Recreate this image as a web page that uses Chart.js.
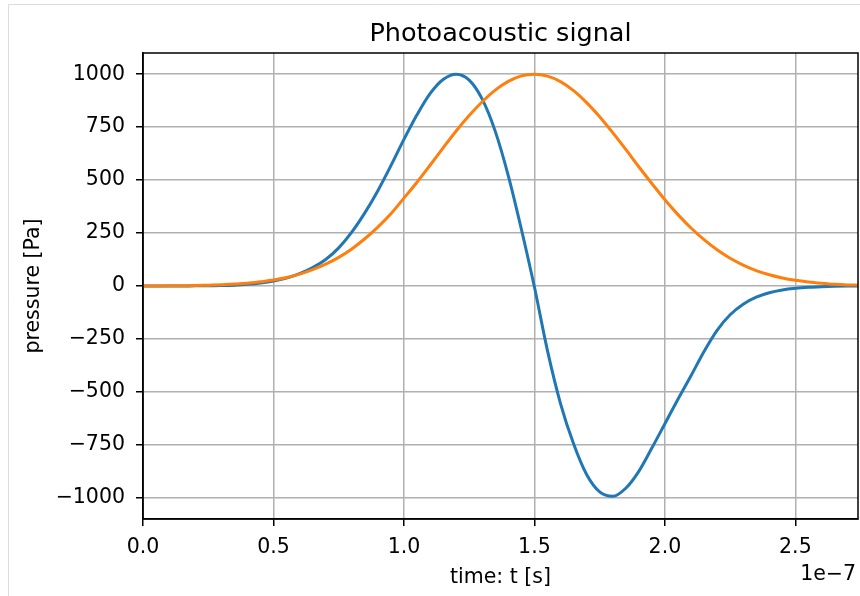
<!DOCTYPE html>
<html>
<head>
<meta charset="utf-8">
<script src="https://cdn.jsdelivr.net/npm/chart.js@4.4.1/dist/chart.umd.min.js"></script>
<style>
  html, body { margin: 0; padding: 0; background: #fff; }
  canvas { display: block; }
</style>
</head>
<body>
<canvas id="grafico" width="860" height="596"></canvas>
<script>
// time axis, in units of 1e-7 s
const tempos = [0.00, 0.05, 0.10, 0.15, 0.20, 0.25, 0.30, 0.35, 0.40, 0.45,
                0.50, 0.55, 0.60, 0.65, 0.70, 0.75, 0.80, 0.85, 0.90, 0.95,
                1.00, 1.05, 1.10, 1.15, 1.20, 1.25, 1.30, 1.35, 1.40, 1.45,
                1.50, 1.55, 1.60, 1.65, 1.70, 1.75, 1.80, 1.85, 1.90, 1.95,
                2.00, 2.05, 2.10, 2.15, 2.20, 2.25, 2.30, 2.35, 2.40, 2.45,
                2.50, 2.55, 2.60, 2.65, 2.70, 2.74];

// blue curve (pressure, Pa)
const sinalAzul = [0, 0, 0, 0, 1, 1, 2, 4, 8, 14,
                   23, 37, 58, 87, 125, 180, 254, 345, 450, 568,
                   692, 808, 908, 975, 1000, 972, 882, 730, 520, 268,
                   -5, -305, -555, -745, -890, -972, -993, -955, -875, -765,
                   -650, -535, -424, -309, -209, -136, -86, -53, -32, -19,
                   -11, -6, -3, -1, 0, 0];

// orange curve (pressure, Pa)
const sinalLaranja = [0, 0, 1, 1, 2, 4, 6, 9, 13, 20,
                      28, 40, 56, 77, 103, 135, 175, 223, 278, 341,
                      415, 490, 570, 652, 732, 805, 870, 925, 966, 992,
                      1000, 991, 965, 922, 866, 799, 724, 645, 563, 484,
                      407, 337, 274, 219, 171, 131, 99, 73, 53, 38,
                      27, 19, 13, 8, 5, 4];

const ticksX = [0, 0.5, 1.0, 1.5, 2.0, 2.5];
const ticksY = [-1000, -750, -500, -250, 0, 250, 500, 750, 1000];

const titulo = "Photoacoustic signal";
const fonte = "'DejaVu Sans', sans-serif";

// frame, title, top/right spines and the 1e-7 offset text
const moldura = {
    id: "moldura",
    beforeDraw(chart) {
        const ctx = chart.ctx;
        ctx.save();
        ctx.fillStyle = "#fff";
        ctx.fillRect(0, 0, chart.width, chart.height);
        ctx.strokeStyle = "#dcdcdc";
        ctx.lineWidth = 1;
        ctx.beginPath();
        ctx.moveTo(8.5, chart.height);
        ctx.lineTo(8.5, 4.5);
        ctx.lineTo(chart.width, 4.5);
        ctx.stroke();
        ctx.restore();
    },
    afterDraw(chart) {
        const ctx = chart.ctx;
        const a = chart.chartArea;
        ctx.save();
        ctx.strokeStyle = "#000";
        ctx.lineWidth = 1.5;
        ctx.strokeRect(a.left, a.top, a.right - a.left, a.bottom - a.top);
        ctx.fillStyle = "#000";
        ctx.textBaseline = "alphabetic";
        ctx.font = "25.5px " + fonte;
        ctx.textAlign = "center";
        ctx.fillText(titulo, (a.left + a.right) / 2, 41);
        ctx.font = "20.5px " + fonte;
        ctx.textAlign = "right";
        ctx.fillText("1e\u22127", 856, 580);
        ctx.restore();
    }
};

function soTicks(lista) {
    return scale => {
        scale.ticks = lista.map(v => ({ value: v }));
    };
}

const ctxGrafico = document.getElementById("grafico");
new Chart(ctxGrafico, {
    type: "line",
    data: {
        datasets: [{
            label: "blue",
            data: tempos.map((t, i) => ({ x: t, y: sinalAzul[i] })),
            borderColor: "#1f77b4",
            borderWidth: 3,
            pointRadius: 0,
            cubicInterpolationMode: "monotone",
            order: 1
        }, {
            label: "orange",
            data: tempos.map((t, i) => ({ x: t, y: sinalLaranja[i] })),
            borderColor: "#ff7f0e",
            borderWidth: 3,
            pointRadius: 0,
            cubicInterpolationMode: "monotone",
            order: 0
        }]
    },
    options: {
        responsive: false,
        animation: false,
        layout: { padding: { top: 53, right: 2, left: 0, bottom: 0 } },
        plugins: {
            legend: { display: false },
            tooltip: { enabled: false },
            title: { display: false }
        },
        scales: {
            x: {
                type: "linear",
                min: 0,
                max: 2.74,
                afterBuildTicks: soTicks(ticksX),
                afterFit: s => { s.height = 77; },
                ticks: {
                    color: "#000",
                    font: { family: fonte, size: 20.5 },
                    padding: 9,
                    maxRotation: 0,
                    autoSkip: false,
                    callback: v => v.toFixed(1)
                },
                grid: { color: "#b0b0b0", lineWidth: 1.5, tickLength: 7, tickColor: "#000", tickWidth: 1.5 },
                border: { color: "#000", width: 1.5 },
                title: {
                    display: true,
                    text: "time: t [s]",
                    color: "#000",
                    font: { family: fonte, size: 20.5 },
                    padding: { top: 0, bottom: 6 }
                }
            },
            y: {
                min: -1100,
                max: 1100,
                afterBuildTicks: soTicks(ticksY),
                afterFit: s => { s.width = 143; },
                ticks: {
                    color: "#000",
                    font: { family: fonte, size: 20.5 },
                    padding: 11,
                    autoSkip: false,
                    callback: v => (v < 0 ? "\u2212" + Math.abs(v) : String(v))
                },
                grid: { color: "#b0b0b0", lineWidth: 1.5, tickLength: 7, tickColor: "#000", tickWidth: 1.5 },
                border: { color: "#000", width: 1.5 },
                title: {
                    display: true,
                    text: "pressure [Pa]",
                    color: "#000",
                    font: { family: fonte, size: 20.5 },
                    padding: { top: 21, bottom: 0 }
                }
            }
        }
    },
    plugins: [moldura]
});
</script>
</body>
</html>
